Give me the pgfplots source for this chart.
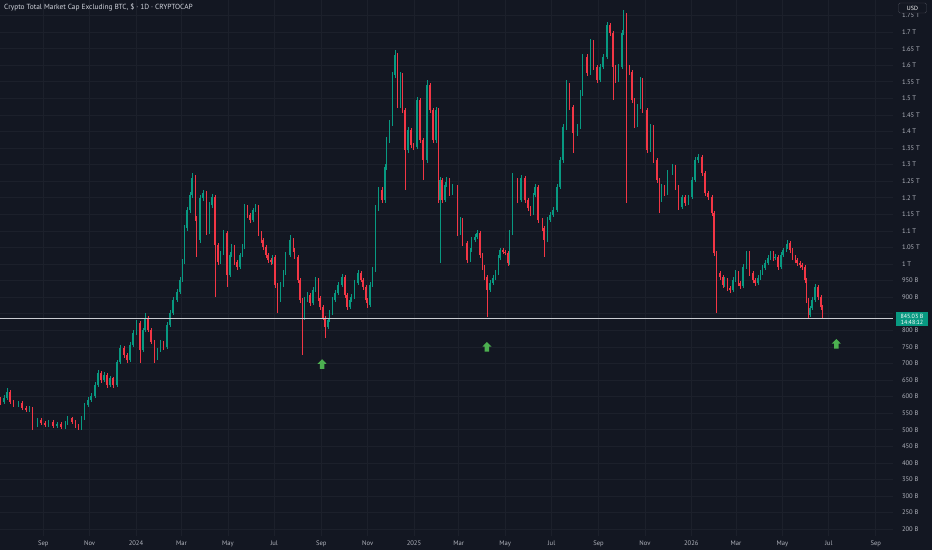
\documentclass[border=0pt]{standalone}
\usepackage{fontspec}
\setmainfont{PT Sans}
\usepackage{pgfplots}
\pgfplotsset{compat=1.18}
\usepackage{pgfplotstable}
\definecolor{bgc}{HTML}{131722}
\definecolor{gridc}{HTML}{1C202B}
\definecolor{upc}{HTML}{089981}
\definecolor{downc}{HTML}{F23645}
\definecolor{txt}{HTML}{B2B5BE}
\definecolor{ttl}{HTML}{D1D4DC}
\definecolor{linec}{HTML}{C9CBD1}
\definecolor{arrc}{HTML}{4CAF50}
\definecolor{boxc}{HTML}{089981}
\definecolor{usdb}{HTML}{434651}

\pgfdeclareplotmark{tvarrow}{%
 \pgfpathmoveto{\pgfqpoint{0pt}{5pt}}%
 \pgfpathlineto{\pgfqpoint{4.6pt}{0.2pt}}%
 \pgfpathlineto{\pgfqpoint{2.3pt}{0.2pt}}%
 \pgfpathlineto{\pgfqpoint{2.3pt}{-4.8pt}}%
 \pgfpathlineto{\pgfqpoint{-2.3pt}{-4.8pt}}%
 \pgfpathlineto{\pgfqpoint{-2.3pt}{0.2pt}}%
 \pgfpathlineto{\pgfqpoint{-4.6pt}{0.2pt}}%
 \pgfpathclose\pgfusepathqfill}

\pgfplotstableread{
d o h l c
-179 590 598 576 584
-174 584 604 578 596
-170 596 626 590 614
-166 614 620 578 584
-161 584 590 568 575
-155 575 588 569 581
-150 581 586 560 566
-145 566 572 553 560
-140 560 573 555 566
-136 566 570 499 514
-130 514 535 508 529
-125 529 536 514 520
-120 520 526 507 514
-115 514 530 508 523
-109 523 528 504 511
-104 511 524 505 517
-99 517 522 501 508
-93 508 527 503 520
-90 520 542 514 535
-84 535 540 517 523
-80 523 528 505 511
-76 511 516 498 505
-72 505 541 500 535
-68 535 582 530 575
-63 575 598 568 590
-59 590 610 584 602
-54 602 643 596 635
-50 635 680 630 671
-46 671 678 642 650
-42 650 673 643 665
-38 665 670 627 635
-34 635 663 628 656
-30 656 660 626 635
-25 635 712 630 704
-21 704 756 698 747
-16 747 752 718 726
-12 726 733 700 710
-8 710 764 704 756
-4 756 800 750 792
1 792 832 786 822
5 822 828 701 741
9 741 808 735 801
12 801 852 795 837
16 837 843 794 801
20 801 807 758 765
24 765 770 701 717
28 717 748 710 741
32 741 770 735 762
36 762 768 742 750
41 750 824 745 816
45 816 860 810 852
49 852 900 846 892
54 892 925 885 916
58 916 962 910 952
61 952 1015 945 1006
64 1006 1118 1000 1109
67 1109 1172 1100 1163
71 1163 1218 1155 1208
74 1208 1275 1200 1260
78 1260 1268 1130 1139
80 1139 1145 1021 1073
84 1073 1208 1065 1199
88 1199 1224 1190 1214
93 1214 1220 1088 1097
97 1097 1186 1090 1178
100 1178 1212 1170 1202
104 1202 1208 901 1058
108 1058 1065 998 1006
111 1006 1040 999 1033
115 1033 1102 1026 1094
120 1094 1100 931 967
124 967 1035 960 1027
126 1027 1060 1020 1052
130 1052 1058 998 1006
133 1006 1012 983 991
137 991 1034 985 1027
140 1027 1060 1020 1052
143 1052 1180 1045 1172
147 1172 1178 1140 1148
150 1148 1155 1125 1133
154 1133 1170 1127 1163
157 1163 1180 1156 1172
161 1172 1178 1086 1094
165 1094 1100 1065 1073
167 1073 1080 1044 1052
171 1052 1058 1019 1027
174 1027 1034 1004 1012
178 1012 1018 998 1006
180 1006 1028 1000 1021
183 1021 1026 929 937
186 937 943 852 892
190 892 945 886 937
194 937 981 930 973
197 973 1035 966 1027
203 1027 1088 1020 1073
207 1073 1080 1035 1042
209 1042 1048 1014 1021
213 1021 1027 944 952
216 952 958 884 892
219 892 898 726 837
222 837 900 830 892
226 892 915 885 907
229 907 913 875 882
233 882 930 876 922
236 922 960 915 952
240 952 958 890 898
242 898 904 862 870
246 870 876 830 837
249 837 843 777 810
253 810 838 803 831
255 831 860 825 852
259 852 900 846 892
262 892 921 886 913
266 913 945 906 937
271 937 970 930 961
275 961 967 899 907
278 907 913 862 870
282 870 900 864 892
284 892 909 885 901
288 901 951 895 943
292 943 981 936 973
296 973 980 945 952
299 952 958 923 931
303 931 937 884 892
305 892 898 868 877
308 877 945 870 937
311 937 990 930 982
315 982 1178 975 1169
319 1169 1234 1160 1224
324 1224 1232 1184 1193
328 1193 1302 1185 1293
330 1293 1383 1285 1374
334 1374 1436 1365 1426
338 1426 1580 1418 1571
341 1571 1646 1562 1631
344 1631 1638 1470 1480
348 1480 1580 1472 1571
351 1571 1578 1455 1465
354 1465 1472 1224 1344
358 1344 1414 1336 1405
362 1405 1412 1350 1359
365 1359 1366 1344 1353
370 1353 1504 1346 1495
374 1495 1502 1365 1374
378 1374 1380 1254 1314
383 1314 1556 1306 1540
387 1540 1548 1456 1465
391 1465 1472 1365 1374
395 1374 1474 1366 1465
398 1465 1472 1185 1193
400 1193 1262 1003 1254
403 1254 1260 1185 1193
407 1193 1248 1186 1239
409 1239 1262 1232 1254
413 1254 1260 1206 1214
417 1214 1241 1207 1233
423 1233 1240 1086 1094
427 1094 1141 1087 1133
430 1133 1140 1056 1064
436 1064 1070 1004 1012
440 1012 1050 1005 1042
442 1042 1081 1036 1073
446 1073 1090 1066 1082
449 1082 1102 1075 1094
453 1094 1100 1019 1027
456 1027 1033 983 991
459 991 997 953 961
462 961 967 840 922
466 922 951 915 943
470 943 966 936 958
473 958 981 951 973
477 973 1026 966 1018
479 1018 1050 1011 1042
483 1042 1049 1029 1036
486 1036 1042 1026 1033
490 1033 1039 995 1003
492 1003 1102 997 1094
496 1094 1275 1087 1254
502 1254 1261 1185 1193
507 1193 1268 1186 1260
512 1260 1266 1185 1193
516 1193 1200 1161 1169
519 1169 1176 1146 1154
523 1154 1216 1147 1208
525 1208 1241 1201 1233
529 1233 1240 1125 1133
535 1133 1140 1101 1109
537 1109 1115 1021 1073
542 1073 1141 1066 1133
545 1133 1156 1126 1148
549 1148 1171 1141 1163
554 1163 1241 1156 1233
558 1233 1323 1226 1314
562 1314 1423 1306 1414
567 1414 1556 1406 1540
571 1540 1548 1466 1474
575 1474 1481 1335 1396
581 1396 1422 1388 1414
585 1414 1525 1407 1516
588 1516 1634 1508 1625
594 1625 1633 1569 1577
598 1577 1679 1570 1670
602 1670 1677 1587 1595
607 1595 1602 1548 1556
611 1556 1603 1549 1595
615 1595 1633 1588 1625
620 1625 1730 1618 1721
624 1721 1729 1689 1697
628 1697 1704 1495 1595
631 1595 1602 1548 1556
635 1556 1603 1549 1595
640 1595 1706 1588 1697
642 1697 1767 1690 1752
646 1752 1758 1184 1595
650 1595 1602 1572 1580
653 1580 1587 1487 1495
656 1495 1502 1412 1420
660 1420 1482 1413 1474
664 1474 1565 1467 1556
667 1556 1563 1457 1465
673 1465 1472 1336 1344
677 1344 1422 1337 1414
681 1414 1421 1306 1314
686 1314 1320 1246 1254
689 1254 1260 1154 1193
692 1193 1241 1186 1233
696 1233 1240 1206 1214
700 1214 1283 1207 1275
706 1275 1301 1268 1293
710 1293 1300 1225 1233
714 1233 1240 1164 1172
719 1172 1210 1165 1202
723 1202 1209 1176 1184
727 1184 1210 1177 1202
732 1202 1262 1195 1254
736 1254 1323 1247 1314
740 1314 1332 1306 1323
745 1323 1330 1267 1275
749 1275 1282 1206 1214
753 1214 1221 1194 1202
758 1202 1209 1146 1154
761 1154 1160 1025 1033
764 1033 1040 852 973
769 973 980 953 961
773 961 967 929 937
775 937 960 930 952
779 952 958 920 928
782 928 935 914 922
786 922 960 915 952
789 952 981 945 973
793 973 979 935 943
795 943 950 926 934
799 934 999 927 991
804 991 1041 984 1033
808 1033 1040 965 973
812 973 979 944 952
815 952 958 935 943
819 943 966 936 958
822 958 981 951 973
825 973 996 966 988
828 988 1011 981 1003
832 1003 1026 996 1018
835 1018 1041 1011 1033
839 1033 1040 1010 1018
841 1018 1029 1011 1021
845 1021 1027 983 991
849 991 1035 984 1027
852 1027 1050 1020 1042
856 1042 1060 1035 1052
858 1052 1072 1045 1064
861 1064 1070 1034 1042
864 1042 1048 1013 1021
868 1021 1027 1004 1012
870 1012 1018 995 1003
874 1003 1010 989 997
877 997 1004 983 991
881 991 997 944 952
883 952 958 884 892
885 892 898 836 846
887 846 875 839 867
890 867 900 860 892
894 892 939 885 931
898 931 937 893 901
902 901 907 862 870
904 870 876 836 845
}\candles

\pgfplotsset{
  candle/.style={draw=none, mark=none, forget plot,
    error bars/y explicit,
    error bars/error mark=none},
}

\begin{document}
\begin{tikzpicture}
\useasboundingbox (0,0) rectangle (932pt,550pt);
\fill[bgc] (0,0) rectangle (932pt,550pt);
\begin{axis}[
  at={(0pt,14pt)}, anchor=south west,
  scale only axis, width=893pt, height=536pt,
  xmin=-179, xmax=996.6, ymin=179.4, ymax=1797,
  axis line style={draw=none},
  major tick length=0pt,
  xtick={-122,-61,0,60,121,182,244,305,366,425,486,547,609,670,731,790,851,912,974},
  xticklabels={Sep,Nov,2024,Mar,May,Jul,Sep,Nov,2025,Mar,May,Jul,Sep,Nov,2026,Mar,May,Jul,Sep},
  ytick={200,250,...,1750},
  yticklabels={200 B,250 B,300 B,350 B,400 B,450 B,500 B,550 B,600 B,650 B,700 B,750 B,800 B,{},900 B,950 B,1 T,1.05 T,1.1 T,1.15 T,1.2 T,1.25 T,1.3 T,1.35 T,1.4 T,1.45 T,1.5 T,1.55 T,1.6 T,1.65 T,1.7 T,1.75 T},
  yticklabel pos=right,
  grid=major,
  major grid style={draw=gridc, line width=0.7pt},
  xticklabel style={anchor=base, yshift=-9.5pt, font=\fontsize{6.6}{7}\selectfont, text=txt},
  yticklabel style={anchor=west, xshift=5.5pt, font=\fontsize{6.6}{7}\selectfont, text=txt},
]
% up candles: wicks then bodies
\addplot[candle, error bars/y dir=both, error bars/error bar style={draw=upc, line width=0.5pt}]
  table[x=d, y expr={\thisrow{c}>=\thisrow{o} ? \thisrow{o} : nan}, y error plus expr={\thisrow{h}-\thisrow{o}}, y error minus expr={\thisrow{o}-\thisrow{l}}] {\candles};
\addplot[candle, error bars/y dir=plus, error bars/error bar style={draw=upc, line width=1.4pt}]
  table[x=d, y expr={\thisrow{c}>=\thisrow{o} ? \thisrow{o} : nan}, y error plus expr={\thisrow{c}-\thisrow{o}}] {\candles};
% down candles: wicks then bodies
\addplot[candle, error bars/y dir=both, error bars/error bar style={draw=downc, line width=0.5pt}]
  table[x=d, y expr={\thisrow{c}<\thisrow{o} ? \thisrow{c} : nan}, y error plus expr={\thisrow{h}-\thisrow{c}}, y error minus expr={\thisrow{c}-\thisrow{l}}] {\candles};
\addplot[candle, error bars/y dir=plus, error bars/error bar style={draw=downc, line width=1.4pt}]
  table[x=d, y expr={\thisrow{c}<\thisrow{o} ? \thisrow{c} : nan}, y error plus expr={\thisrow{o}-\thisrow{c}}] {\candles};
% horizontal support line
\addplot[linec, line width=1.5pt, forget plot] coordinates {(-179,836) (996.6,836)};
% arrows
\addplot[only marks, mark=tvarrow, color=arrc, forget plot] coordinates {(245,698) (462,750) (922,759)};
\end{axis}
\node[anchor=west, text=ttl, font=\fontsize{7.4}{8}\selectfont, inner sep=0pt] at (4pt,543pt) {Crypto Total Market Cap Excluding BTC, \$ · 1D · CRYPTOCAP};
\node[fill=boxc, text=white, font=\fontsize{6}{6.2}\selectfont, inner sep=0pt, minimum width=32pt, minimum height=14pt, align=center] at (912pt,231pt) {845.03 B\\14:48:12};
\node[draw=usdb, fill=bgc, rounded corners=1.5pt, text=white, font=\fontsize{6}{6}\selectfont, minimum width=28pt, minimum height=10pt, inner sep=0pt] at (912.5pt,542pt) {USD};
\end{tikzpicture}
\end{document}
